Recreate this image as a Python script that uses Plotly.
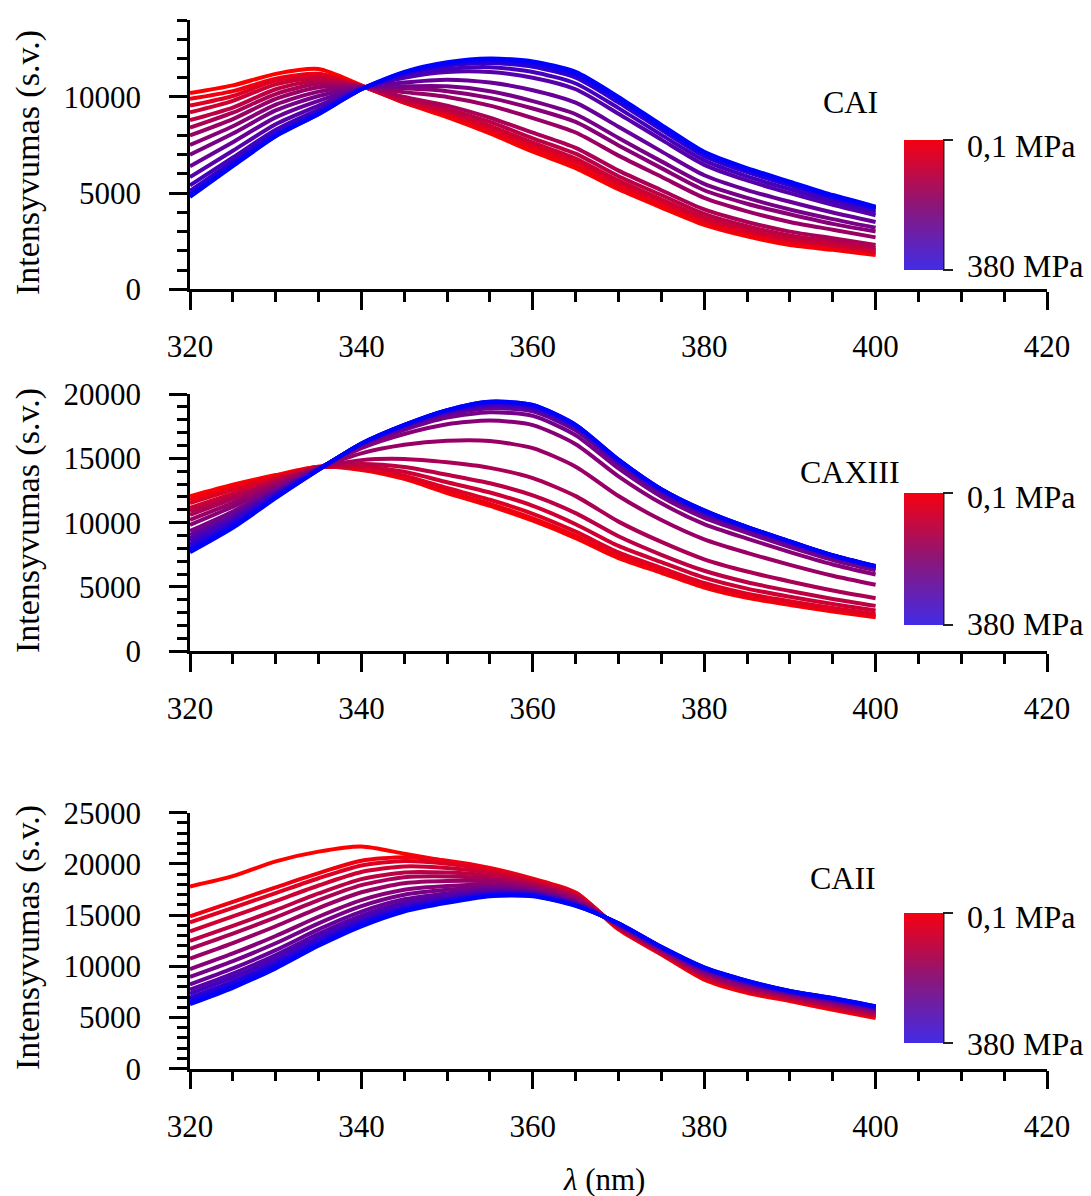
import plotly.graph_objects as go

# ---------------- data ----------------
wavelength_nm = [320, 325, 330, 335, 340, 345, 350, 355, 360, 365, 370, 375, 380, 385, 390, 395, 400]

pressure_top_label = "0,1 MPa"
pressure_bottom_label = "380 MPa"
panel_names = ["CAI", "CAXIII", "CAII"]

# CAI: curves ordered from 0.1 MPa (red) to 380 MPa (blue)
cai_curves = [
    [10200, 10600, 11200, 11450, 10600, 9700, 8950, 8100, 7150, 6300, 5200, 4250, 3350, 2750, 2300, 2050, 1780],
    [9900, 10300, 10950, 11200, 10580, 9700, 9050, 8200, 7300, 6450, 5300, 4380, 3460, 2860, 2400, 2130, 1860],
    [9550, 10050, 10850, 11150, 10570, 9750, 9150, 8350, 7480, 6650, 5490, 4550, 3600, 3000, 2550, 2250, 1950],
    [9200, 9800, 10650, 11000, 10560, 9800, 9250, 8500, 7620, 6800, 5650, 4680, 3730, 3100, 2630, 2330, 2050],
    [8800, 9450, 10400, 10850, 10550, 9900, 9380, 8700, 7850, 7050, 5880, 4900, 3920, 3280, 2800, 2480, 2150],
    [8400, 9180, 10150, 10680, 10540, 10000, 9550, 8920, 8140, 7350, 6170, 5150, 4150, 3500, 3000, 2650, 2300],
    [8000, 8850, 9900, 10500, 10520, 10250, 10000, 9550, 8900, 8150, 6950, 5850, 4750, 4050, 3500, 3100, 2700],
    [7500, 8475, 9600, 10275, 10500, 10450, 10300, 9950, 9400, 8700, 7480, 6300, 5150, 4450, 3900, 3400, 3000],
    [7000, 8100, 9300, 10050, 10480, 10550, 10550, 10300, 9780, 9100, 7870, 6650, 5480, 4750, 4150, 3650, 3200],
    [6400, 7650, 8940, 9800, 10460, 10750, 10900, 10750, 10350, 9700, 8450, 7170, 5930, 5160, 4550, 3990, 3500],
    [5830, 7200, 8580, 9550, 10440, 11000, 11300, 11300, 11000, 10400, 9130, 7780, 6470, 5660, 5000, 4390, 3850],
    [5400, 6850, 8300, 9350, 10420, 11100, 11450, 11550, 11300, 10700, 9420, 8030, 6700, 5870, 5200, 4560, 4000],
    [5120, 6650, 8150, 9240, 10410, 11200, 11630, 11770, 11570, 11000, 9710, 8290, 6920, 6090, 5400, 4730, 4150],
    [4960, 6520, 8050, 9170, 10400, 11230, 11690, 11840, 11660, 11100, 9810, 8380, 7000, 6160, 5470, 4790, 4200],
    [4850, 6440, 7980, 9120, 10400, 11270, 11740, 11920, 11760, 11200, 9900, 8460, 7070, 6230, 5530, 4840, 4250],
    [4800, 6400, 7950, 9100, 10400, 11300, 11800, 12000, 11850, 11300, 10000, 8550, 7150, 6300, 5600, 4900, 4300],
]

# CAXIII
caxiii_curves = [
    [12050, 12950, 13700, 14350, 14100, 13400, 12300, 11300, 10150, 8800, 7250, 6100, 4950, 4150, 3600, 3100, 2650],
    [11800, 12760, 13600, 14340, 14140, 13480, 12430, 11460, 10330, 8970, 7400, 6230, 5070, 4260, 3700, 3190, 2730],
    [11530, 12550, 13480, 14320, 14220, 13650, 12690, 11780, 10690, 9300, 7690, 6480, 5310, 4480, 3900, 3360, 2890],
    [11140, 12250, 13320, 14300, 14370, 13950, 13140, 12340, 11310, 9880, 8190, 6930, 5720, 4870, 4240, 3670, 3170],
    [10900, 12060, 13220, 14280, 14550, 14320, 13720, 13060, 12120, 10740, 8940, 7500, 6260, 5370, 4690, 4070, 3530],
    [10610, 11840, 13110, 14270, 14860, 14950, 14690, 14260, 13460, 12060, 10080, 8500, 7150, 6200, 5430, 4730, 4130],
    [10220, 11540, 12940, 14250, 15390, 16050, 16360, 16340, 15790, 14350, 12070, 10200, 8700, 7650, 6720, 5870, 5170],
    [9830, 11240, 12780, 14220, 15800, 16890, 17650, 17940, 17580, 16100, 13600, 11500, 9890, 8760, 7710, 6750, 5970],
    [9350, 10870, 12580, 14200, 15970, 17220, 18170, 18580, 18300, 16800, 14210, 12020, 10370, 9200, 8100, 7100, 6290],
    [9050, 10640, 12460, 14180, 16050, 17390, 18430, 18900, 18650, 17170, 14520, 12270, 10600, 9420, 8300, 7280, 6450],
    [8790, 10440, 12350, 14160, 16090, 17470, 18560, 19060, 18830, 17340, 14670, 12400, 10720, 9530, 8400, 7370, 6530],
    [8570, 10270, 12260, 14150, 16110, 17520, 18620, 19140, 18920, 17420, 14750, 12470, 10780, 9590, 8450, 7410, 6570],
    [8310, 10070, 12150, 14140, 16130, 17560, 18690, 19220, 19010, 17510, 14820, 12540, 10840, 9650, 8500, 7460, 6610],
    [8050, 9870, 12040, 14120, 16140, 17580, 18720, 19350, 19060, 17560, 14860, 12570, 10870, 9670, 8530, 7480, 6630],
    [7870, 9730, 11970, 14110, 16150, 17600, 18750, 19400, 19150, 17600, 14900, 12600, 10950, 9650, 8550, 7450, 6600],
    [7700, 9600, 11900, 14100, 16150, 17600, 18750, 19400, 19150, 17600, 14900, 12600, 10950, 9650, 8550, 7450, 6600],
]

# CAII
caii_curves = [
    [17800, 18800, 20250, 21200, 21700, 21000, 20250, 19450, 18450, 17150, 13600, 11150, 8700, 7400, 6600, 5750, 4950],
    [14880, 16300, 17700, 19100, 20300, 20650, 20300, 19600, 18550, 17200, 13700, 11200, 8800, 7500, 6700, 5850, 5050],
    [14280, 15710, 17150, 18600, 19850, 20280, 20010, 19410, 18430, 17110, 13740, 11250, 8880, 7580, 6760, 5920, 5120],
    [13420, 14870, 16360, 17890, 19210, 19750, 19600, 19130, 18260, 16980, 13790, 11320, 8990, 7690, 6850, 6030, 5230],
    [12480, 13950, 15490, 17110, 18510, 19170, 19150, 18830, 18070, 16840, 13840, 11400, 9110, 7810, 6950, 6140, 5340],
    [11710, 13190, 14780, 16470, 17930, 18690, 18780, 18580, 17920, 16720, 13890, 11460, 9210, 7910, 7030, 6240, 5440],
    [10760, 12270, 13910, 15690, 17230, 18110, 18330, 18280, 17730, 16580, 13940, 11540, 9330, 8030, 7130, 6350, 5550],
    [9730, 11260, 12960, 14840, 16460, 17470, 17840, 17950, 17530, 16420, 14000, 11620, 9460, 8160, 7240, 6480, 5680],
    [8960, 10500, 12250, 14200, 15880, 16990, 17470, 17700, 17380, 16300, 14050, 11680, 9560, 8260, 7320, 6580, 5780],
    [8230, 9790, 11580, 13600, 15340, 16540, 17120, 17470, 17230, 16190, 14090, 11740, 9650, 8350, 7400, 6660, 5860],
    [7720, 9290, 11100, 13170, 14960, 16220, 16880, 17300, 17130, 16110, 14120, 11790, 9720, 8420, 7450, 6730, 5930],
    [7330, 8910, 10750, 12850, 14670, 15990, 16690, 17180, 17050, 16060, 14140, 11820, 9770, 8470, 7490, 6770, 5970],
    [6940, 8530, 10390, 12530, 14380, 15750, 16510, 17060, 16980, 16000, 14160, 11850, 9820, 8520, 7530, 6820, 6020],
    [6730, 8320, 10200, 12360, 14220, 15620, 16410, 16990, 16940, 15970, 14180, 11870, 9850, 8550, 7560, 6850, 6050],
    [6500, 8090, 9980, 12160, 14050, 15470, 16290, 16910, 16890, 15930, 14190, 11880, 9880, 8580, 7580, 6880, 6080],
    [6300, 7900, 9800, 12000, 13900, 15350, 16200, 16850, 16850, 15900, 14200, 11900, 9900, 8600, 7600, 6900, 6100],
]

y_axis_max = [14000, 20000, 25000]
x_tick_values = [320, 340, 360, 380, 400, 420]

# ---------------- layout helpers ----------------
W, H = 1091, 1196
ML, MR, MT, MB = 190, 44, 20, 127
PW, PH = W - ML - MR, H - MT - MB
FONT = "Liberation Serif"


def px_x(px):
    return (px - ML) / PW


def px_y(py):
    return (H - MB - py) / PH


panel_geo = [
    dict(top=19.6, bottom=289.3, name_x=850, name_y=102, title_y=163, cb_top=140, cb_bot=270, lab_top=146, lab_bot=266),
    dict(top=394.0, bottom=651.3, name_x=850, name_y=472, title_y=521, cb_top=493, cb_bot=625, lab_top=497, lab_bot=624),
    dict(top=812.7, bottom=1068.7, name_x=843, name_y=878, title_y=938, cb_top=913, cb_bot=1043, lab_top=917, lab_bot=1044),
]

colorscale = [[0.0, "rgb(66,44,230)"], [0.5, "rgb(140,22,120)"], [1.0, "rgb(245,0,16)"]]

fig = go.Figure()
all_curves = [cai_curves, caxiii_curves, caii_curves]
annotations = []
shapes = []
layout_axes = {}
TXT = dict(family=FONT, size=32, color="black")

for p, curves in enumerate(all_curves):
    sfx = "" if p == 0 else str(p + 1)
    xref, yref = "x" + sfx, "y" + sfx
    n = len(curves)
    for k, vals in enumerate(curves):
        t = k / (n - 1)
        col = "rgb(%d,0,%d)" % (round(255 * (1 - t)), round(255 * t))
        fig.add_trace(go.Scatter(x=wavelength_nm, y=vals, mode="lines",
                                 line=dict(color=col, width=4, shape="spline", smoothing=0.7),
                                 xaxis=xref, yaxis=yref, showlegend=False, hoverinfo="skip"))
    g = panel_geo[p]
    cb_len = g["cb_bot"] - g["cb_top"]
    fig.add_trace(go.Scatter(
        x=[None], y=[None], mode="markers", xaxis=xref, yaxis=yref, showlegend=False, hoverinfo="skip",
        marker=dict(color=[0.5], cmin=0, cmax=1, colorscale=colorscale, showscale=True,
                    colorbar=dict(x=px_x(904), xanchor="left", xpad=0,
                                  y=px_y(g["cb_top"]), yanchor="top", ypad=0,
                                  len=cb_len, lenmode="pixels", thickness=39, thicknessmode="pixels",
                                  outlinewidth=0, tickvals=[0, 1], ticks="outside", ticklen=10,
                                  tickwidth=2, tickcolor="#222", showticklabels=False))))
    shapes.append(dict(type="line", xref="paper", yref="paper",
                       x0=px_x(943.5), x1=px_x(943.5), y0=px_y(g["cb_top"]), y1=px_y(g["cb_bot"]),
                       line=dict(color="#222", width=2)))
    annotations.append(dict(text=pressure_top_label, xref="paper", yref="paper", x=px_x(965), y=px_y(g["lab_top"]),
                            xanchor="left", yanchor="middle", showarrow=False, font=TXT))
    annotations.append(dict(text=pressure_bottom_label, xref="paper", yref="paper", x=px_x(965), y=px_y(g["lab_bot"]),
                            xanchor="left", yanchor="middle", showarrow=False, font=TXT))
    annotations.append(dict(text=panel_names[p], xref="paper", yref="paper", x=px_x(g["name_x"]), y=px_y(g["name_y"]),
                            xanchor="center", yanchor="middle", showarrow=False, font=TXT))
    annotations.append(dict(text="Intensyvumas (s.v.)", xref="paper", yref="paper", x=px_x(28), y=px_y(g["title_y"]),
                            xanchor="center", yanchor="middle", textangle=-90, showarrow=False,
                            font=dict(family=FONT, size=34, color="black")))

    dom = [max(0.0, px_y(g["bottom"])), min(1.0, px_y(g["top"]))]
    layout_axes["xaxis" + sfx] = dict(
        domain=[0, 1], anchor=yref, range=[320, 420], tickmode="array", tickvals=x_tick_values,
        ticks="outside", ticklen=18, tickwidth=2.5, tickcolor="black",
        showline=True, linewidth=2.5, linecolor="black", showgrid=False, zeroline=False,
        tickfont=dict(family=FONT, size=31, color="black"), ticklabelstandoff=10,
        minor=dict(dtick=5, tick0=320, ticks="outside", ticklen=10, tickwidth=2.5, tickcolor="black", showgrid=False))
    layout_axes["yaxis" + sfx] = dict(
        domain=dom, anchor=xref, range=[0, y_axis_max[p]], tickmode="linear", tick0=0, dtick=5000, tickformat="d",
        ticks="outside", ticklen=18, tickwidth=2.5, tickcolor="black",
        showline=True, linewidth=2.5, linecolor="black", showgrid=False, zeroline=False,
        tickfont=dict(family=FONT, size=31, color="black"), ticklabelstandoff=22,
        minor=dict(dtick=1000, tick0=0, ticks="outside", ticklen=10, tickwidth=2.5, tickcolor="black", showgrid=False))

annotations.append(dict(text="<i>λ</i> (nm)", xref="paper", yref="paper", x=px_x(604), y=px_y(1179),
                        xanchor="center", yanchor="middle", showarrow=False, font=dict(family=FONT, size=31, color="black")))

fig.update_layout(
    width=W, height=H, margin=dict(l=ML, r=MR, t=MT, b=MB, autoexpand=False),
    paper_bgcolor="white", plot_bgcolor="white", showlegend=False,
    annotations=annotations, shapes=shapes, **layout_axes)

fig.write_html("out.html")
